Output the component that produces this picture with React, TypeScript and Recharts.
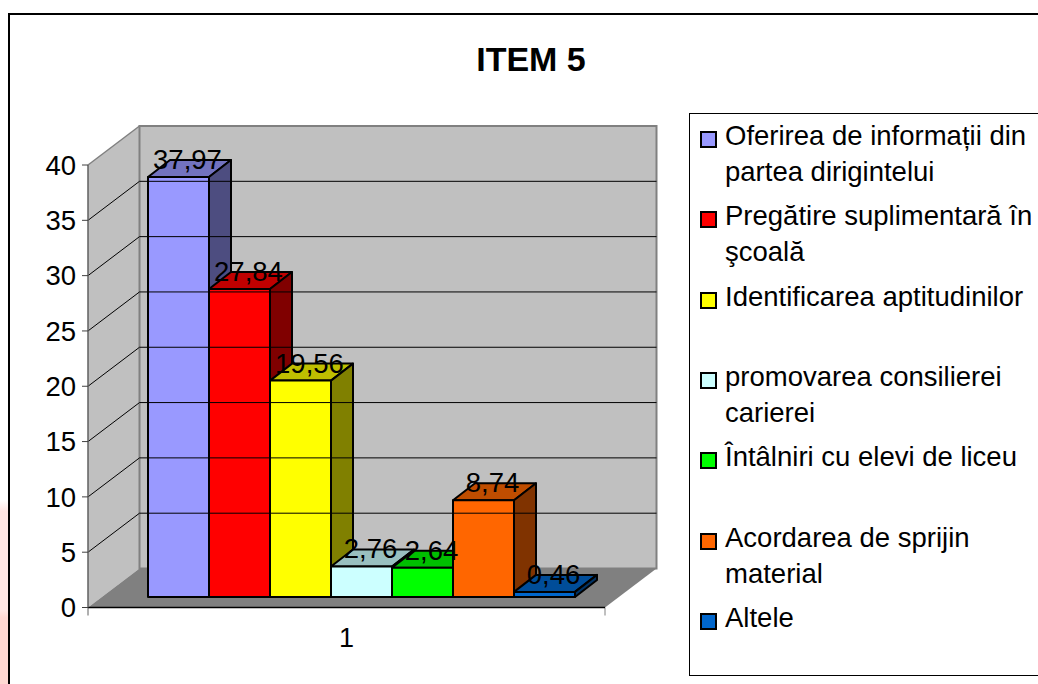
import { BarChart, Bar, XAxis, YAxis, Legend, LabelList, ReferenceArea, ReferenceLine } from "recharts";

const categories = ["1"];
const seriesNames = [
  "Oferirea de informații din partea dirigintelui",
  "Pregătire suplimentară în şcoală",
  "Identificarea aptitudinilor",
  "promovarea consilierei carierei",
  "Întâlniri cu elevi de liceu",
  "Acordarea de sprijin material",
  "Altele",
];
const seriesValues = [37.97, 27.84, 19.56, 2.76, 2.64, 8.74, 0.46];
const yTicks = [0, 5, 10, 15, 20, 25, 30, 35, 40];
const wallLines = [5, 10, 15, 20, 25, 30, 35];

const frontColors = ["#9999FF", "#FF0000", "#FFFF00", "#CCFFFF", "#00FF00", "#FF6600", "#0066CC"];
const topColors = ["#7373BF", "#BF0000", "#BFBF00", "#99BFBF", "#00BF00", "#BF4D00", "#004D99"];
const sideColors = ["#4D4D80", "#800000", "#808000", "#668080", "#008000", "#803300", "#003366"];

const data = categories.map((name) => {
  const row: Record<string, string | number> = { name };
  seriesNames.forEach((s, i) => (row[s] = seriesValues[i]));
  return row;
});

const FONT = "'Liberation Sans', Arial, sans-serif";
// depth of the box: how far the back wall sits from the axis plane
const WALL_DX = 51.5;
const WALL_DY = -39;
// depth of each bar, and the offset of the bars from the axis plane
const BAR_DX = 22;
const BAR_DY = -17;
const SHIFT_X = 15;
const SHIFT_Y = -10.5;

function Walls(props: any) {
  const { x, y, width, height } = props;
  const bottom = y + height;
  const right = x + width;
  return (
    <g>
      <polygon
        points={`${x},${y} ${x + WALL_DX},${y + WALL_DY} ${x + WALL_DX},${bottom + WALL_DY} ${x},${bottom}`}
        fill="#C0C0C0"
      />
      <rect x={x + WALL_DX} y={y + WALL_DY} width={width} height={height} fill="#C0C0C0" stroke="#808080" strokeWidth={2} />
      <line x1={x} y1={y} x2={x + WALL_DX} y2={y + WALL_DY} stroke="#808080" strokeWidth={1.5} />
      <polygon
        points={`${x},${bottom} ${x + WALL_DX},${bottom + WALL_DY} ${right + WALL_DX},${bottom + WALL_DY} ${right},${bottom}`}
        fill="#808080"
      />
      <line x1={x} y1={bottom} x2={x} y2={bottom + 8} stroke="#606060" />
      <line x1={right} y1={bottom} x2={right} y2={bottom + 8} stroke="#808080" />
    </g>
  );
}

function WallLine(props: any) {
  const { x1, x2, y1 } = props;
  return (
    <g>
      <line x1={x1} y1={y1} x2={x1 + WALL_DX} y2={y1 + WALL_DY} stroke="#000" />
      <line x1={x1 + WALL_DX} y1={y1 + WALL_DY} x2={x2 + WALL_DX} y2={y1 + WALL_DY} stroke="#000" />
    </g>
  );
}

function Box3D(props: any) {
  const { x, y, width, height, fill, top, side } = props;
  const l = x + SHIFT_X;
  const t = y + SHIFT_Y;
  const r = l + width;
  const b = t + height;
  return (
    <g stroke="#000" strokeWidth={2} strokeLinejoin="round">
      <polygon points={`${l},${t} ${l + BAR_DX},${t + BAR_DY} ${r + BAR_DX},${t + BAR_DY} ${r},${t}`} fill={top} />
      <polygon points={`${r},${t} ${r + BAR_DX},${t + BAR_DY} ${r + BAR_DX},${b + BAR_DY} ${r},${b}`} fill={side} />
      <rect x={l} y={t} width={width} height={height} fill={fill} />
    </g>
  );
}

function ValueLabel(props: any) {
  const { x, y, width, value } = props;
  return (
    <text
      x={x + SHIFT_X + width / 2 + 9}
      y={y + SHIFT_Y - 8}
      textAnchor="middle"
      fontSize={27.5}
      fontFamily={FONT}
      fill="#000"
    >
      {String(value).replace(".", ",")}
    </text>
  );
}

function LegendBox(props: any) {
  const { payload } = props;
  return (
    <div
      style={{
        position: "absolute",
        left: 689,
        top: 113,
        width: 360,
        height: 563,
        boxSizing: "border-box",
        border: "1px solid #000",
        background: "#fff",
        fontFamily: FONT,
        fontSize: 27.5,
        lineHeight: "36px",
        color: "#000",
      }}
    >
      {(payload || []).map((item: any, i: number) => (
        <div key={i} style={{ position: "absolute", left: 35, top: 4 + i * 80.3, width: 316, textAlign: "left" }}>
          <span
            style={{
              position: "absolute",
              left: -25,
              top: 13,
              width: 17,
              height: 17,
              boxSizing: "border-box",
              border: "2px solid #000",
              background: item.color,
            }}
          />
          {item.value}
        </div>
      ))}
    </div>
  );
}

export default function App() {
  return (
    <div style={{ position: "absolute", left: 0, top: 0, width: 1038, height: 684, overflow: "hidden", background: "#fff" }}>
      <div
        style={{
          position: "absolute",
          left: 0,
          top: 500,
          width: 8,
          height: 184,
          background: "linear-gradient(180deg, #fff 0%, #FFE6E3 6%, #FFE6E3 60%, #FFD8D2 64%, #FFD8D2 100%)",
        }}
      />
      <div
        style={{
          position: "absolute",
          left: 8,
          top: 13,
          width: 1100,
          height: 800,
          borderTop: "2px solid #000",
          borderLeft: "2px solid #000",
        }}
      />
      <BarChart
        width={1038}
        height={684}
        data={data}
        margin={{ top: 165, right: 433, bottom: 0, left: 0 }}
        barGap={0}
        barSize={61}
        barCategoryGap={45}
        style={{ position: "absolute", left: 0, top: 0 }}
      >
        <text x={531} y={71} textAnchor="middle" fontSize={34} fontWeight="bold" fontFamily={FONT} fill="#000">
          ITEM 5
        </text>
        <ReferenceArea y1={0} y2={40} shape={<Walls />} ifOverflow="visible" />
        {wallLines.map((v) => (
          <ReferenceLine key={v} y={v} shape={(p: any) => <WallLine {...p} />} ifOverflow="visible" />
        ))}
        <XAxis
          dataKey="name"
          height={76.5}
          tickLine={false}
          axisLine={{ stroke: "#000", strokeWidth: 1.5 }}
          tick={{ fill: "#000", fontSize: 27, fontFamily: FONT }}
          tickMargin={14}
        />
        <YAxis
          width={88}
          domain={[0, 40]}
          ticks={yTicks}
          tickSize={6}
          tickMargin={6}
          interval={0}
          axisLine={{ stroke: "#606060", strokeWidth: 1.5 }}
          tickLine={{ stroke: "#404040" }}
          tick={{ fill: "#000", fontSize: 27.5, fontFamily: FONT }}
        />
        <Legend
          content={<LegendBox />}
          itemSorter={null}
          wrapperStyle={{ position: "absolute", left: 0, top: 0, width: 0, height: 0 }}
        />
        {seriesNames.map((s, i) => (
          <Bar
            key={s}
            dataKey={s}
            name={s}
            fill={frontColors[i]}
            isAnimationActive={false}
            shape={(p: any) => <Box3D {...p} fill={frontColors[i]} top={topColors[i]} side={sideColors[i]} />}
          >
            <LabelList dataKey={s} content={<ValueLabel />} />
          </Bar>
        ))}
      </BarChart>
    </div>
  );
}
